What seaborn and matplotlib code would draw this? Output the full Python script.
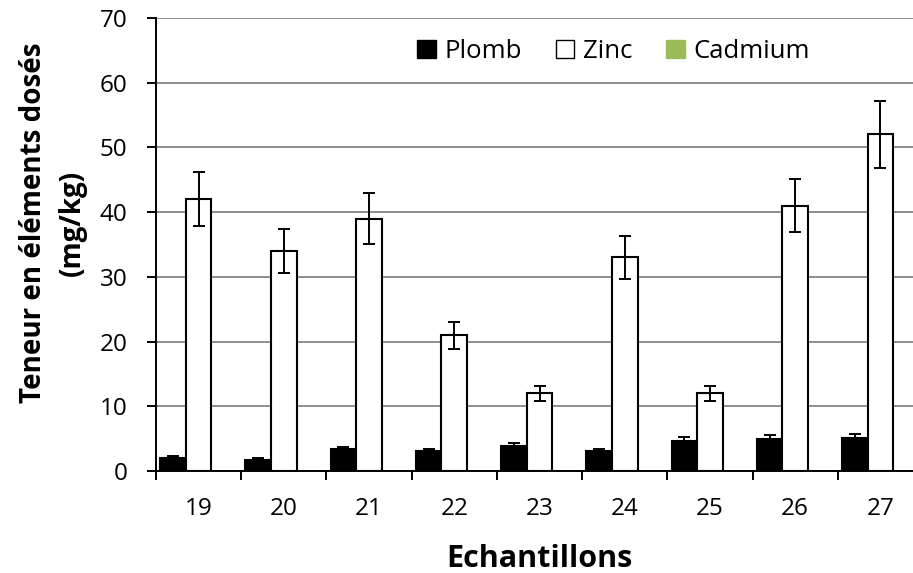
import matplotlib
matplotlib.use("Agg")
import matplotlib.pyplot as plt
import seaborn as sns
import pandas as pd
import numpy as np
from matplotlib.patches import Patch

samples = ["19", "20", "21", "22", "23", "24", "25", "26", "27"]
plomb = [2.05, 1.7, 3.35, 3.1, 3.9, 3.15, 4.7, 5.0, 5.1]
plomb_err = [0.25, 0.3, 0.4, 0.3, 0.45, 0.3, 0.5, 0.55, 0.6]
zinc = [42, 34, 39, 21, 12, 33, 12, 41, 52]
zinc_err = [4.2, 3.4, 3.9, 2.1, 1.2, 3.3, 1.2, 4.1, 5.2]
cadmium = [0, 0, 0, 0, 0, 0, 0, 0, 0]
cadmium_err = [0, 0, 0, 0, 0, 0, 0, 0, 0]
series = ["Plomb", "Zinc", "Cadmium"]
colors = ["#000000", "#ffffff", "#9bbb59"]

sns.set_theme(style="white")
plt.rcParams["font.family"] = ["Open Sans", "DejaVu Sans"]

df = pd.DataFrame({
    "Echantillon": samples * 3,
    "Serie": [s for s in series for _ in samples],
    "Valeur": plomb + zinc + cadmium,
})
errs = {"Plomb": plomb_err, "Zinc": zinc_err, "Cadmium": cadmium_err}
vals = {"Plomb": plomb, "Zinc": zinc, "Cadmium": cadmium}

W, H = 913, 573
fig = plt.figure(figsize=(W / 100, H / 100), dpi=100)
ax = fig.add_axes([156 / W, (H - 471) / H, (923 - 156) / W, (471 - 18) / H])

sns.barplot(data=df, x="Echantillon", y="Valeur", hue="Serie", hue_order=series,
            palette=colors, width=0.9, errorbar=None, edgecolor="black",
            linewidth=1.5, ax=ax, zorder=3, legend=False)

for s, cont in zip(series, ax.containers):
    xs = [p.get_x() + p.get_width() / 2 for p in cont.patches]
    if s == "Cadmium":
        for p in cont.patches:
            p.set_linewidth(0)
        continue
    ax.errorbar(xs, vals[s], yerr=errs[s], fmt="none", ecolor="black",
                elinewidth=1.4, capsize=4.5, capthick=1.4, zorder=4)

ax.set_ylim(0, 70)
ax.set_xlim(-0.5, len(samples) - 0.5)
ax.set_yticks(np.arange(0, 71, 10))
ax.yaxis.grid(True, color="#868686", linewidth=1.3, zorder=0)
ax.set_axisbelow(True)
for sp in ["top", "right"]:
    ax.spines[sp].set_visible(False)
for sp in ["left", "bottom"]:
    ax.spines[sp].set_color("black")
    ax.spines[sp].set_linewidth(1.4)

ax.tick_params(axis="y", which="major", direction="out", length=6.5, width=1.4,
               color="black", labelsize=17.5, pad=14, left=True, labelcolor="black")
ax.tick_params(axis="x", which="major", length=0, labelsize=17.5, pad=19,
               labelcolor="black")
ax.set_xticks(np.arange(-0.5, len(samples), 1.0), minor=True)
ax.tick_params(axis="x", which="minor", direction="out", length=6.5, width=1.4,
               color="black", bottom=True)

ax.set_xlabel("Echantillons", fontsize=22, fontweight="bold", labelpad=16,
              color="black")
ax.set_ylabel("Teneur en éléments dosés\n(mg/kg)", fontsize=20,
              fontweight="bold", labelpad=9, linespacing=1.45, color="black",
              y=0.547)

handles = [Patch(facecolor=c, edgecolor="black" if c != "#9bbb59" else "#9bbb59",
                 linewidth=1.0) for c in colors]
fs = 18.5
leg = fig.legend(handles, series, loc="center left",
                 bbox_to_anchor=(417 / W, (H - 51.7) / H),
                 ncol=3, frameon=False, fontsize=fs, handlelength=0.72,
                 handleheight=0.72, handletextpad=0.36, columnspacing=1.3,
                 borderpad=0, borderaxespad=0)
for t in leg.get_texts():
    t.set_color("black")

fig.savefig("out.png", dpi=100)
